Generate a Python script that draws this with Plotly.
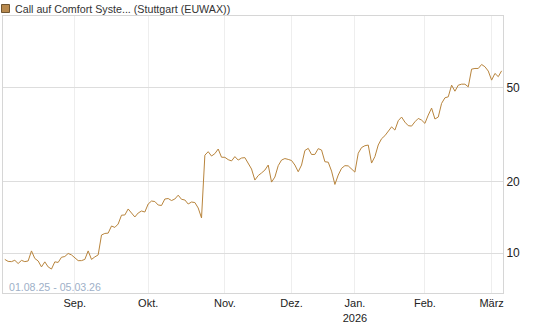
import datetime as dt
import plotly.graph_objects as go

# ---- data ----
series_name = "Call auf Comfort Syste... (Stuttgart (EUWAX))"
start_date = dt.date(2025, 8, 1)
end_date = dt.date(2026, 3, 5)
holidays = ["2025-12-24", "2025-12-25", "2025-12-26", "2025-12-31", "2026-01-01"]

values = [
    9.42, 9.24, 9.22, 9.34, 9.05, 9.33, 9.22, 9.28, 10.23, 9.51,
    9.28, 8.76, 9.20, 8.76, 8.58, 9.20, 9.15, 9.62, 9.69, 9.98,
    9.84, 9.60, 9.31, 9.31, 9.42, 10.23, 9.42, 9.65, 9.84, 11.94,
    12.12, 12.16, 13.03, 12.85, 13.28, 14.47, 14.50, 15.37, 14.78, 14.22,
    14.78, 15.07, 14.92, 16.13, 16.60, 16.52, 15.97, 15.90, 16.93, 17.01,
    16.68, 16.93, 17.57, 16.88, 16.77, 16.13, 16.44, 16.36, 15.52, 14.09,
    25.9, 26.8, 25.69, 26.3, 27.5, 25.4, 25.37, 24.8, 24.5, 25.55,
    24.7, 25.2, 25.3, 24.0, 22.65, 20.35, 21.25, 21.8, 22.42, 23.54,
    19.95, 20.95, 23.4, 24.71, 25.07, 24.86, 24.6, 23.54, 22.06, 23.54,
    27.1, 27.68, 26.08, 26.1, 27.6, 27.23, 24.31, 24.2, 22.2, 19.5,
    21.36, 22.80, 23.4, 23.35, 22.75, 21.98, 26.4, 27.9, 28.4, 28.58,
    24.0, 25.55, 28.6, 30.4, 31.3, 32.7, 34.1, 33.05, 36.2, 37.5,
    35.7, 34.5, 34.36, 35.82, 37.0, 36.41, 35.27, 38.23, 40.9, 36.8,
    37.5, 42.82, 45.21, 45.64, 51.12, 48.2, 51.1, 51.61, 51.6, 50.29,
    59.7, 60.1, 60.1, 62.47, 61.1, 58.6, 53.66, 57.27, 55.5, 58.73,
]

month_ticks = ["2025-09-01", "2025-10-01", "2025-11-03", "2025-12-01",
               "2026-01-02", "2026-02-02", "2026-03-02"]
month_labels = ["Sep.", "Okt.", "Nov.", "Dez.", "Jan.<br>2026", "Feb.", "März"]
y_ticks = [10, 20, 50]
date_label = "01.08.25 - 05.03.26"

# trading-day calendar
hol = set(holidays)
dates = []
d = start_date
while d <= end_date:
    if d.weekday() < 5 and d.isoformat() not in hol:
        dates.append(d.isoformat())
    d += dt.timedelta(days=1)
dates = dates[:len(values)]

LINE = "#b8843c"
fig = go.Figure()
fig.add_trace(go.Scatter(x=dates, y=values, mode="lines",
                         line=dict(color=LINE, width=1), showlegend=False,
                         hoverinfo="x+y"))

W, H = 545, 327
ml, mr, mt, mb = 3, 42, 16, 34
pw, ph = W - ml - mr, H - mt - mb

def px(x):
    return (x - ml) / pw

def py(y):
    return (H - mb - y) / ph

fig.update_layout(
    width=W, height=H,
    margin=dict(l=ml, r=mr, t=mt, b=mb, pad=0),
    paper_bgcolor="white", plot_bgcolor="white",
    font=dict(family="Liberation Sans, Arial, sans-serif", size=11, color="#222"),
    xaxis=dict(
        type="date",
        range=["2025-07-31 11:00", "2026-03-05 10:00"],
        rangebreaks=[dict(bounds=["sat", "mon"]), dict(values=holidays)],
        tickmode="array", tickvals=month_ticks, ticktext=month_labels,
        showgrid=True, gridcolor="#eeeeee", gridwidth=1,
        showline=True, linecolor="#d6d6d6", linewidth=1, mirror=True,
        ticks="", zeroline=False,
        tickfont=dict(size=11, color="#222"),
    ),
    yaxis=dict(
        type="log", side="right",
        range=[0.8325, 2.0],
        tickmode="array", tickvals=y_ticks, ticktext=[str(v) for v in y_ticks],
        showgrid=True, gridcolor="#dddddd", gridwidth=1,
        showline=True, linecolor="#d6d6d6", linewidth=1, mirror=True,
        ticks="", zeroline=False,
        tickfont=dict(size=12, color="#222"),
    ),
    shapes=[dict(type="rect", xref="paper", yref="paper",
                 x0=px(1.5), x1=px(9.5), y0=py(12.5), y1=py(4.5),
                 fillcolor="#b8894e", line=dict(color="#6e5532", width=1))],
    annotations=[
        dict(text=series_name, xref="paper", yref="paper",
             x=px(13), y=py(8.5), xanchor="left", yanchor="middle",
             showarrow=False, font=dict(size=10.7, color="#333")),
        dict(text=date_label, xref="paper", yref="paper",
             x=px(7), y=py(287), xanchor="left", yanchor="middle",
             showarrow=False, font=dict(size=10.6, color="#9eb0c8")),
    ],
)

fig.write_html("out.html")
